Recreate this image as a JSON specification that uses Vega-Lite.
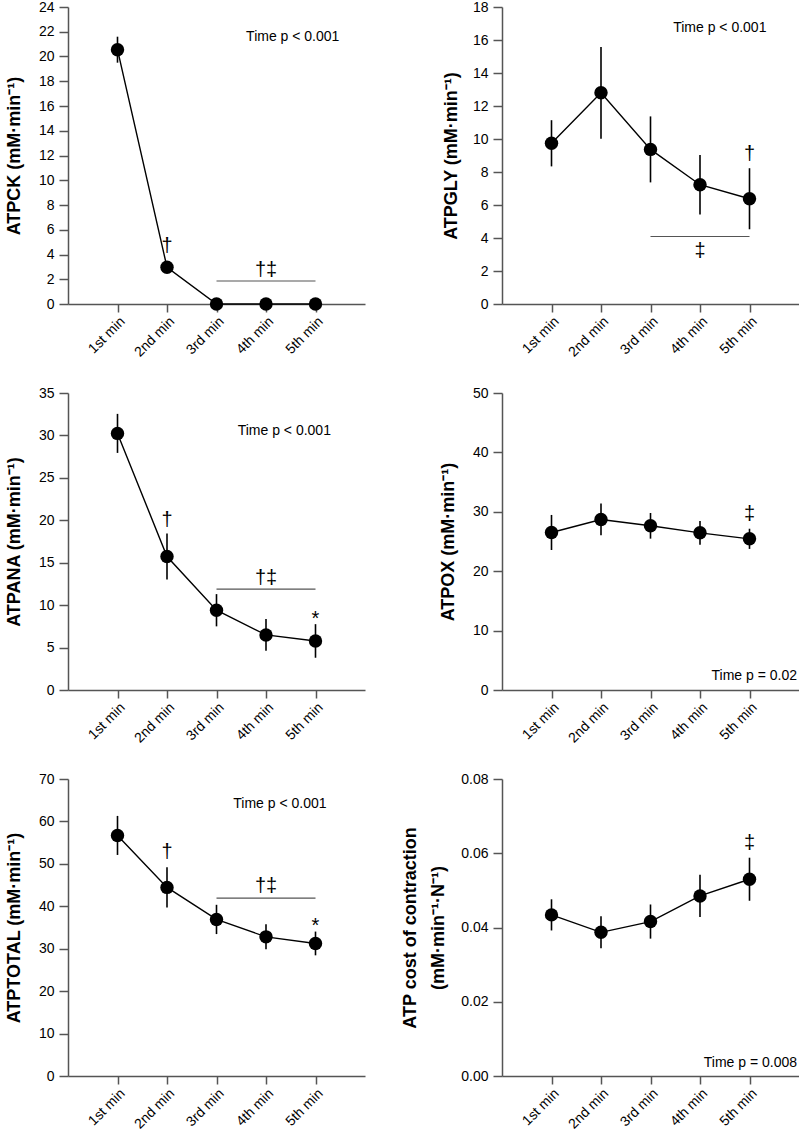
{
  "$schema": "https://vega.github.io/schema/vega-lite/v6.json",
  "padding": {"left": 5, "top": 0, "right": 0, "bottom": 0},
  "background": "white",
  "config": {
    "font": "Liberation Sans",
    "view": {"stroke": null},
    "axis": {
      "grid": false,
      "domainColor": "#555",
      "domainWidth": 1.5,
      "tickColor": "#555",
      "tickWidth": 1.5,
      "tickSize": 9,
      "labelFont": "Liberation Sans",
      "labelFontSize": 14,
      "labelColor": "#000",
      "labelPadding": 5,
      "titleFont": "Liberation Sans",
      "titleFontSize": 18,
      "titleFontWeight": "bold",
      "titleColor": "#000"
    },
    "axisX": {"labelPadding": 2, "tickSize": 8}
  },
  "datasets": {
    "ck": [{"x": 1, "y": 20.55, "sd": 1.05}, {"x": 2, "y": 2.97, "sd": 0.4}, {"x": 3, "y": 0, "sd": 0}, {"x": 4, "y": 0, "sd": 0}, {"x": 5, "y": 0, "sd": 0}],
    "ck_sig": [{"x": 3, "x2": 5, "y": 1.86}],
    "ck_note": [{"x": 4.54, "y": 21.57, "label": "Time p < 0.001"}],
    "ck_sym": [{"x": 2, "y": 4.72, "label": "†"}, {"x": 4, "y": 2.75, "label": "†‡"}],
    "gly": [{"x": 1, "y": 9.74, "sd": 1.4}, {"x": 2, "y": 12.8, "sd": 2.78}, {"x": 3, "y": 9.37, "sd": 2.0}, {"x": 4, "y": 7.23, "sd": 1.8}, {"x": 5, "y": 6.38, "sd": 1.85}],
    "gly_sig": [{"x": 3, "x2": 5, "y": 4.09}],
    "gly_note": [{"x": 4.40, "y": 16.70, "label": "Time p < 0.001"}],
    "gly_sym": [{"x": 5, "y": 9.09, "label": "†"}, {"x": 4, "y": 3.24, "label": "‡"}],
    "ana": [{"x": 1, "y": 30.24, "sd": 2.3}, {"x": 2, "y": 15.73, "sd": 2.7}, {"x": 3, "y": 9.4, "sd": 1.9}, {"x": 4, "y": 6.49, "sd": 1.87}, {"x": 5, "y": 5.78, "sd": 1.98}],
    "ana_sig": [{"x": 3, "x2": 5, "y": 11.88}],
    "ana_note": [{"x": 4.37, "y": 30.48, "label": "Time p < 0.001"}],
    "ana_sym": [{"x": 2, "y": 20.05, "label": "†"}, {"x": 4, "y": 13.25, "label": "†‡"}, {"x": 5, "y": 8.4, "label": "*"}],
    "ox": [{"x": 1, "y": 26.52, "sd": 2.95}, {"x": 2, "y": 28.71, "sd": 2.67}, {"x": 3, "y": 27.64, "sd": 2.16}, {"x": 4, "y": 26.46, "sd": 2.0}, {"x": 5, "y": 25.45, "sd": 1.7}],
    "ox_note": [{"x": 5.96, "y": 2.36, "label": "Time p = 0.02"}],
    "ox_sym": [{"x": 5, "y": 29.66, "label": "‡"}],
    "total": [{"x": 1, "y": 56.7, "sd": 4.6}, {"x": 2, "y": 44.45, "sd": 4.75}, {"x": 3, "y": 36.9, "sd": 3.45}, {"x": 4, "y": 32.8, "sd": 2.95}, {"x": 5, "y": 31.24, "sd": 2.8}],
    "total_sig": [{"x": 3, "x2": 5, "y": 41.94}],
    "total_note": [{"x": 4.28, "y": 64.1, "label": "Time p < 0.001"}],
    "total_sym": [{"x": 2, "y": 52.7, "label": "†"}, {"x": 4, "y": 44.77, "label": "†‡"}, {"x": 5, "y": 35.25, "label": "*"}],
    "cost": [{"x": 1, "y": 0.0434, "sd": 0.0042}, {"x": 2, "y": 0.0387, "sd": 0.0043}, {"x": 3, "y": 0.0416, "sd": 0.0046}, {"x": 4, "y": 0.0485, "sd": 0.0057}, {"x": 5, "y": 0.0530, "sd": 0.0058}],
    "cost_note": [{"x": 5.96, "y": 0.0034, "label": "Time p = 0.008"}],
    "cost_sym": [{"x": 5, "y": 0.0627, "label": "‡"}]
  },
  "columns": 2,
  "spacing": {"row": 89, "column": 137},
  "bounds": "flush",
  "concat": [
    {
      "width": 297, "height": 297,
      "encoding": {
        "x": {"field": "x", "type": "quantitative", "scale": {"domain": [0, 6], "nice": false}, "axis": {"values": [1, 2, 3, 4, 5], "labelExpr": "['', '1st min', '2nd min', '3rd min', '4th min', '5th min'][datum.value]", "labelAngle": -45, "labelOverlap": false, "title": null}},
        "y": {"field": "y", "type": "quantitative", "scale": {"domain": [0, 24], "nice": false}, "axis": {"values": [0, 2, 4, 6, 8, 10, 12, 14, 16, 18, 20, 22, 24], "title": "ATPCK (mM·min⁻¹)", "titlePadding": 15}}
      },
      "layer": [
        {"data": {"name": "ck"}, "mark": {"type": "errorbar", "ticks": false, "thickness": 1.6, "color": "#000"}, "encoding": {"yError": {"field": "sd"}}},
        {"data": {"name": "ck"}, "mark": {"type": "line", "color": "#000", "strokeWidth": 1.4}},
        {"data": {"name": "ck"}, "mark": {"type": "point", "filled": true, "size": 180, "color": "#000", "opacity": 1}},
        {"data": {"name": "ck_sig"}, "mark": {"type": "rule", "color": "#555", "strokeWidth": 1.2}, "encoding": {"x2": {"field": "x2"}}},
        {"data": {"name": "ck_note"}, "mark": {"type": "text", "fontSize": 14, "align": "center", "baseline": "middle", "color": "#000"}, "encoding": {"text": {"field": "label"}}},
        {"data": {"name": "ck_sym"}, "mark": {"type": "text", "fontSize": 20, "align": "center", "baseline": "middle", "color": "#000"}, "encoding": {"text": {"field": "label"}}}
      ]
    },
    {
      "width": 297, "height": 297,
      "encoding": {
        "x": {"field": "x", "type": "quantitative", "scale": {"domain": [0, 6], "nice": false}, "axis": {"values": [1, 2, 3, 4, 5], "labelExpr": "['', '1st min', '2nd min', '3rd min', '4th min', '5th min'][datum.value]", "labelAngle": -45, "labelOverlap": false, "title": null}},
        "y": {"field": "y", "type": "quantitative", "scale": {"domain": [0, 18], "nice": false}, "axis": {"values": [0, 2, 4, 6, 8, 10, 12, 14, 16, 18], "title": "ATPGLY (mM·min⁻¹)", "titlePadding": 11.5}}
      },
      "layer": [
        {"data": {"name": "gly"}, "mark": {"type": "errorbar", "ticks": false, "thickness": 1.6, "color": "#000"}, "encoding": {"yError": {"field": "sd"}}},
        {"data": {"name": "gly"}, "mark": {"type": "line", "color": "#000", "strokeWidth": 1.4}},
        {"data": {"name": "gly"}, "mark": {"type": "point", "filled": true, "size": 180, "color": "#000", "opacity": 1}},
        {"data": {"name": "gly_sig"}, "mark": {"type": "rule", "color": "#555", "strokeWidth": 1.2}, "encoding": {"x2": {"field": "x2"}}},
        {"data": {"name": "gly_note"}, "mark": {"type": "text", "fontSize": 14, "align": "center", "baseline": "middle", "color": "#000"}, "encoding": {"text": {"field": "label"}}},
        {"data": {"name": "gly_sym"}, "mark": {"type": "text", "fontSize": 20, "align": "center", "baseline": "middle", "color": "#000"}, "encoding": {"text": {"field": "label"}}}
      ]
    },
    {
      "width": 297, "height": 297,
      "encoding": {
        "x": {"field": "x", "type": "quantitative", "scale": {"domain": [0, 6], "nice": false}, "axis": {"values": [1, 2, 3, 4, 5], "labelExpr": "['', '1st min', '2nd min', '3rd min', '4th min', '5th min'][datum.value]", "labelAngle": -45, "labelOverlap": false, "title": null}},
        "y": {"field": "y", "type": "quantitative", "scale": {"domain": [0, 35], "nice": false}, "axis": {"values": [0, 5, 10, 15, 20, 25, 30, 35], "title": "ATPANA (mM·min⁻¹)", "titlePadding": 15}}
      },
      "layer": [
        {"data": {"name": "ana"}, "mark": {"type": "errorbar", "ticks": false, "thickness": 1.6, "color": "#000"}, "encoding": {"yError": {"field": "sd"}}},
        {"data": {"name": "ana"}, "mark": {"type": "line", "color": "#000", "strokeWidth": 1.4}},
        {"data": {"name": "ana"}, "mark": {"type": "point", "filled": true, "size": 180, "color": "#000", "opacity": 1}},
        {"data": {"name": "ana_sig"}, "mark": {"type": "rule", "color": "#555", "strokeWidth": 1.2}, "encoding": {"x2": {"field": "x2"}}},
        {"data": {"name": "ana_note"}, "mark": {"type": "text", "fontSize": 14, "align": "center", "baseline": "middle", "color": "#000"}, "encoding": {"text": {"field": "label"}}},
        {"data": {"name": "ana_sym"}, "mark": {"type": "text", "fontSize": 20, "align": "center", "baseline": "middle", "color": "#000"}, "encoding": {"text": {"field": "label"}}}
      ]
    },
    {
      "width": 297, "height": 297,
      "encoding": {
        "x": {"field": "x", "type": "quantitative", "scale": {"domain": [0, 6], "nice": false}, "axis": {"values": [1, 2, 3, 4, 5], "labelExpr": "['', '1st min', '2nd min', '3rd min', '4th min', '5th min'][datum.value]", "labelAngle": -45, "labelOverlap": false, "title": null}},
        "y": {"field": "y", "type": "quantitative", "scale": {"domain": [0, 50], "nice": false}, "axis": {"values": [0, 10, 20, 30, 40, 50], "title": "ATPOX (mM·min⁻¹)", "titlePadding": 14.5}}
      },
      "layer": [
        {"data": {"name": "ox"}, "mark": {"type": "errorbar", "ticks": false, "thickness": 1.6, "color": "#000"}, "encoding": {"yError": {"field": "sd"}}},
        {"data": {"name": "ox"}, "mark": {"type": "line", "color": "#000", "strokeWidth": 1.4}},
        {"data": {"name": "ox"}, "mark": {"type": "point", "filled": true, "size": 180, "color": "#000", "opacity": 1}},
        {"data": {"name": "ox_note"}, "mark": {"type": "text", "fontSize": 14, "align": "right", "baseline": "middle", "color": "#000"}, "encoding": {"text": {"field": "label"}}},
        {"data": {"name": "ox_sym"}, "mark": {"type": "text", "fontSize": 20, "align": "center", "baseline": "middle", "color": "#000"}, "encoding": {"text": {"field": "label"}}}
      ]
    },
    {
      "width": 297, "height": 297,
      "encoding": {
        "x": {"field": "x", "type": "quantitative", "scale": {"domain": [0, 6], "nice": false}, "axis": {"values": [1, 2, 3, 4, 5], "labelExpr": "['', '1st min', '2nd min', '3rd min', '4th min', '5th min'][datum.value]", "labelAngle": -45, "labelOverlap": false, "title": null}},
        "y": {"field": "y", "type": "quantitative", "scale": {"domain": [0, 70], "nice": false}, "axis": {"values": [0, 10, 20, 30, 40, 50, 60, 70], "title": "ATPTOTAL (mM·min⁻¹)", "titlePadding": 15}}
      },
      "layer": [
        {"data": {"name": "total"}, "mark": {"type": "errorbar", "ticks": false, "thickness": 1.6, "color": "#000"}, "encoding": {"yError": {"field": "sd"}}},
        {"data": {"name": "total"}, "mark": {"type": "line", "color": "#000", "strokeWidth": 1.4}},
        {"data": {"name": "total"}, "mark": {"type": "point", "filled": true, "size": 180, "color": "#000", "opacity": 1}},
        {"data": {"name": "total_sig"}, "mark": {"type": "rule", "color": "#555", "strokeWidth": 1.2}, "encoding": {"x2": {"field": "x2"}}},
        {"data": {"name": "total_note"}, "mark": {"type": "text", "fontSize": 14, "align": "center", "baseline": "middle", "color": "#000"}, "encoding": {"text": {"field": "label"}}},
        {"data": {"name": "total_sym"}, "mark": {"type": "text", "fontSize": 20, "align": "center", "baseline": "middle", "color": "#000"}, "encoding": {"text": {"field": "label"}}}
      ]
    },
    {
      "width": 297, "height": 297,
      "encoding": {
        "x": {"field": "x", "type": "quantitative", "scale": {"domain": [0, 6], "nice": false}, "axis": {"values": [1, 2, 3, 4, 5], "labelExpr": "['', '1st min', '2nd min', '3rd min', '4th min', '5th min'][datum.value]", "labelAngle": -45, "labelOverlap": false, "title": null}},
        "y": {"field": "y", "type": "quantitative", "scale": {"domain": [0, 0.08], "nice": false}, "axis": {"values": [0, 0.02, 0.04, 0.06, 0.08], "format": ".2f", "title": ["ATP cost of contraction", "(mM·min⁻¹·N⁻¹)"], "titleLineHeight": 28, "titlePadding": 13.5}}
      },
      "layer": [
        {"data": {"name": "cost"}, "mark": {"type": "errorbar", "ticks": false, "thickness": 1.6, "color": "#000"}, "encoding": {"yError": {"field": "sd"}}},
        {"data": {"name": "cost"}, "mark": {"type": "line", "color": "#000", "strokeWidth": 1.4}},
        {"data": {"name": "cost"}, "mark": {"type": "point", "filled": true, "size": 180, "color": "#000", "opacity": 1}},
        {"data": {"name": "cost_note"}, "mark": {"type": "text", "fontSize": 14, "align": "right", "baseline": "middle", "color": "#000"}, "encoding": {"text": {"field": "label"}}},
        {"data": {"name": "cost_sym"}, "mark": {"type": "text", "fontSize": 20, "align": "center", "baseline": "middle", "color": "#000"}, "encoding": {"text": {"field": "label"}}}
      ]
    }
  ]
}
